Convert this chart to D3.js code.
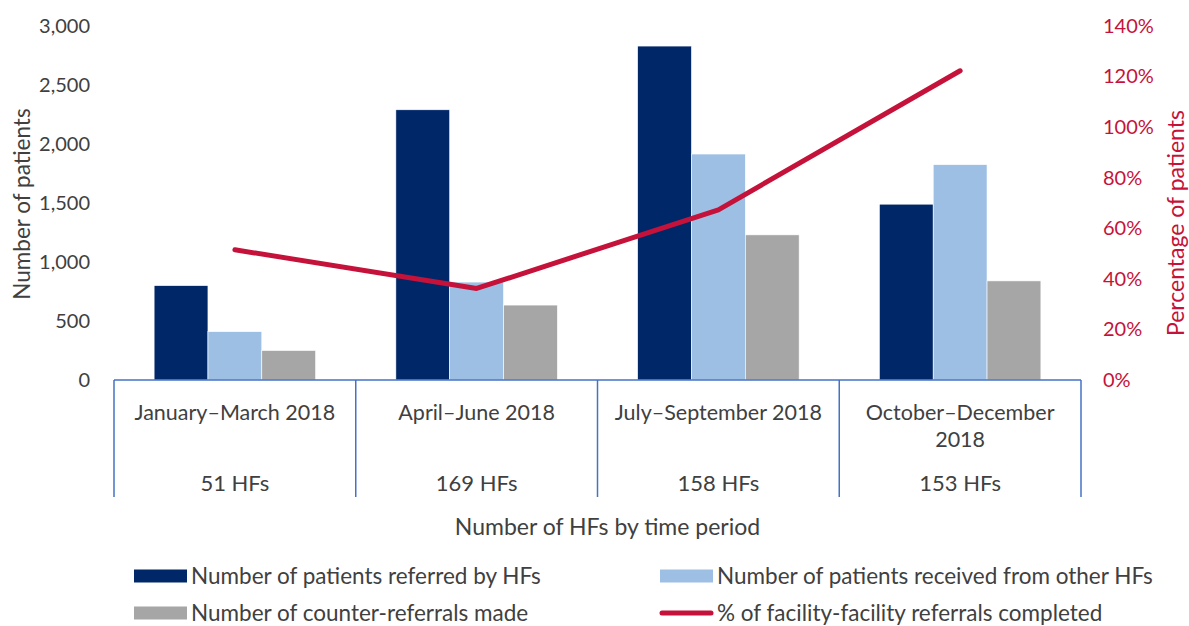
<!DOCTYPE html>
<html>
<head>
<meta charset="utf-8">
<script src="https://cdn.jsdelivr.net/npm/d3@7"></script>
<style>
  body { margin: 0; background: #fff; }
  svg { font-family: Lato, "Open Sans", sans-serif; }
</style>
</head>
<body>
<svg id="chart" width="1189" height="626"></svg>
<script>
// data {{{ //
const periods = ["January\u2013March 2018", "April\u2013June 2018", "July\u2013September 2018", "October\u2013December 2018"];
const period_lines = [["January\u2013March 2018"], ["April\u2013June 2018"], ["July\u2013September 2018"], ["October\u2013December", "2018"]];
const hf_counts = ["51 HFs", "169 HFs", "158 HFs", "153 HFs"];
const referred = [800, 2290, 2830, 1490];
const received = [410, 830, 1915, 1825];
const counter_referrals = [250, 635, 1230, 840];
const pct_completed = [51.5, 36.2, 67.3, 122.3];
const series_names = ["Number of patients referred by HFs", "Number of patients received from other HFs", "Number of counter-referrals made"];
const left_ticks = [0, 500, 1000, 1500, 2000, 2500, 3000];
const right_ticks = [0, 20, 40, 60, 80, 100, 120, 140];
// }}} data //

const colors = ["#002868", "#9dbfe4", "#a6a6a6"];
const red = "#c5123a";
const text_col = "#404040";

const svg = d3.select("#chart");
const plot_top = 26, plot_bottom = 380, plot_left = 114, plot_right = 1081;

// scales {{{ //
const x0 = d3.scaleBand().domain(periods).range([plot_left, plot_right]);
const x1 = d3.scaleBand().domain(series_names).range([0, x0.bandwidth()]).paddingOuter(0.745);
const y = d3.scaleLinear().domain([0, 3000]).range([plot_bottom, plot_top]);
const y2 = d3.scaleLinear().domain([0, 140]).range([plot_bottom, plot_top]);
// }}} scales //

// bars {{{ //
const bar_data = [referred, received, counter_referrals];
periods.forEach(function(p, i) {
  svg.append("g")
    .selectAll("rect")
    .data(series_names)
    .enter().append("rect")
    .attr("x", s => x0(p) + x1(s))
    .attr("width", x1.bandwidth())
    .attr("y", (s, j) => y(bar_data[j][i]))
    .attr("height", (s, j) => plot_bottom - y(bar_data[j][i]))
    .attr("fill", (s, j) => colors[j])
    .attr("stroke", "#fff")
    .attr("stroke-width", 0.6);
});
// }}} bars //

// category axis box {{{ //
const cat = svg.append("g");
cat.append("line")
  .attr("x1", plot_left).attr("x2", plot_right)
  .attr("y1", plot_bottom).attr("y2", plot_bottom)
  .attr("stroke", "#4472c4").attr("stroke-width", 1.5);
const bounds = periods.map(p => x0(p)).concat([x0(periods[periods.length - 1]) + x0.bandwidth()]);
cat.selectAll("line.sep")
  .data(bounds)
  .enter().append("line")
  .attr("class", "sep")
  .attr("x1", d => d).attr("x2", d => d)
  .attr("y1", plot_bottom).attr("y2", 497)
  .attr("stroke", "#4472c4").attr("stroke-width", 1.5);
periods.forEach(function(p, i) {
  const cx = x0(p) + x0.bandwidth() / 2;
  period_lines[i].forEach(function(line, k) {
    cat.append("text")
      .attr("x", cx).attr("y", 420 + k * 27)
      .attr("text-anchor", "middle")
      .attr("fill", text_col)
      .style("font-size", "21.5px")
      .text(line);
  });
  cat.append("text")
    .attr("x", cx).attr("y", 491)
    .attr("text-anchor", "middle")
    .attr("fill", text_col)
    .style("font-size", "22px")
    .text(hf_counts[i]);
});
svg.append("text")
  .attr("x", (plot_left + plot_right) / 2 + 10).attr("y", 535)
  .attr("text-anchor", "middle")
  .attr("fill", text_col)
  .style("font-size", "23px")
  .text("Number of HFs by time period");
// }}} category axis box //

// y axes {{{ //
const ya = svg.append("g")
  .attr("transform", "translate(93,0)")
  .call(d3.axisLeft(y).tickValues(left_ticks).tickSize(0).tickFormat(d3.format(",")));
ya.select(".domain").remove();
ya.selectAll("text").attr("fill", text_col).style("font-size", "20px").style("font-family", "Lato, sans-serif");

const yb = svg.append("g")
  .attr("transform", "translate(1100,0)")
  .call(d3.axisRight(y2).tickValues(right_ticks).tickSize(0).tickFormat(d => d + "%"));
yb.select(".domain").remove();
yb.selectAll("text").attr("fill", red).style("font-size", "20px").style("font-family", "Lato, sans-serif");

svg.append("text")
  .attr("transform", "translate(30,204) rotate(-90)")
  .attr("text-anchor", "middle")
  .attr("fill", text_col)
  .style("font-size", "22.5px")
  .text("Number of patients");
svg.append("text")
  .attr("transform", "translate(1184,223) rotate(-90)")
  .attr("text-anchor", "middle")
  .attr("fill", red)
  .style("font-size", "23px")
  .text("Percentage of patients");
// }}} y axes //

// line {{{ //
const line = d3.line()
  .x((d, i) => x0(periods[i]) + x0.bandwidth() / 2)
  .y(d => y2(d));
svg.append("path")
  .datum(pct_completed)
  .attr("d", line)
  .attr("fill", "none")
  .attr("stroke", red)
  .attr("stroke-width", 5)
  .attr("stroke-linecap", "round")
  .attr("stroke-linejoin", "round");
// }}} line //

// legend {{{ //
const legend_items = [
  { name: series_names[0], type: "bar", color: colors[0], x: 134, y: 576 },
  { name: series_names[1], type: "bar", color: colors[1], x: 660, y: 576 },
  { name: series_names[2], type: "bar", color: colors[2], x: 134, y: 613 },
  { name: "% of facility-facility referrals completed", type: "line", color: red, x: 660, y: 613 }
];
const lg = svg.append("g");
legend_items.forEach(function(d) {
  if (d.type === "bar") {
    lg.append("rect")
      .attr("x", d.x).attr("y", d.y - 6.5)
      .attr("width", 53).attr("height", 13)
      .attr("fill", d.color);
  } else {
    lg.append("line")
      .attr("x1", d.x + 2).attr("x2", d.x + 51)
      .attr("y1", d.y).attr("y2", d.y)
      .attr("stroke", d.color).attr("stroke-width", 5)
      .attr("stroke-linecap", "round");
  }
  lg.append("text")
    .attr("x", d.x + 57).attr("y", d.y + 8)
    .attr("fill", text_col)
    .style("font-size", "22.5px")
    .text(d.name);
});
// }}} legend //
</script>
</body>
</html>
